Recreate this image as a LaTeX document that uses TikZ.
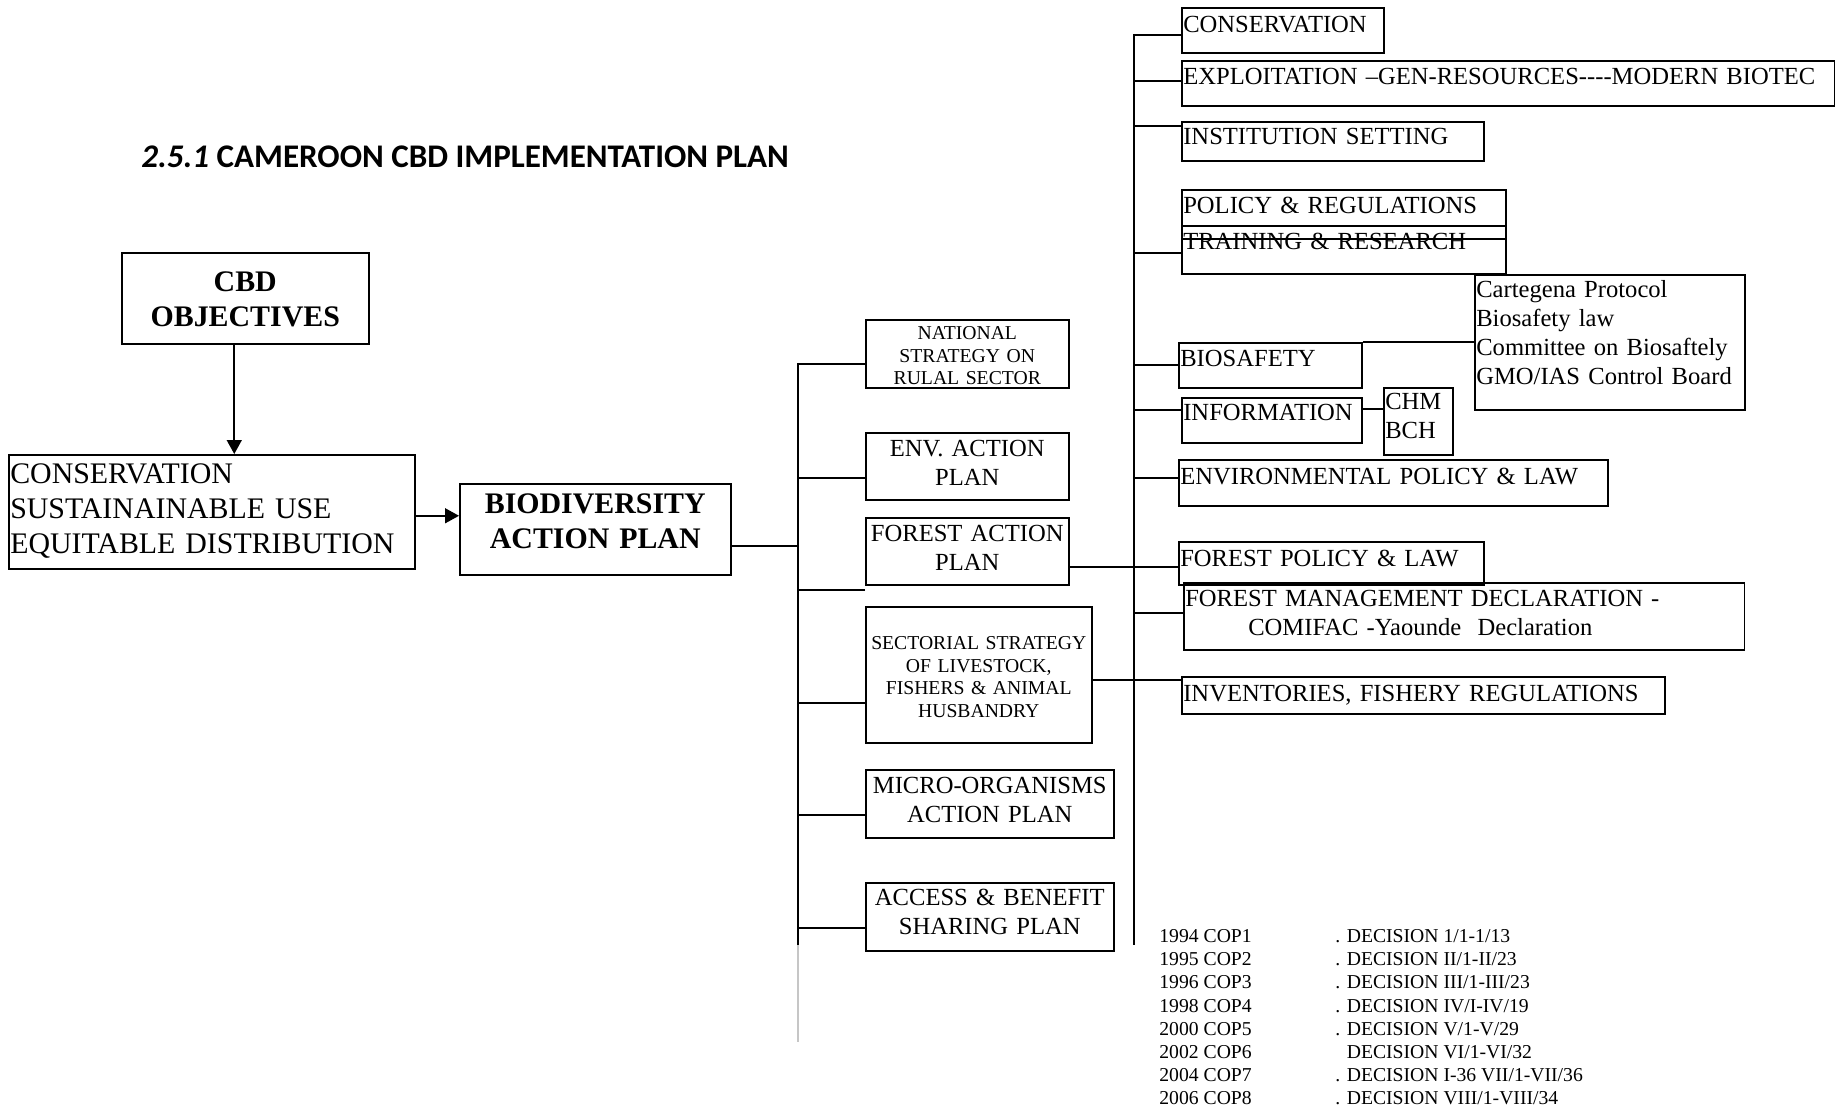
\documentclass[tikz,border=0pt]{standalone}
\usepackage{fontspec}
\setmainfont{Liberation Serif}
\newfontfamily\titlefont{Carlito}
\usepackage{tikz}
\usetikzlibrary{arrows.meta}

\tikzset{
  box/.style={draw, line width=0.9pt, anchor=north west, inner xsep=0.03cm, inner ysep=0pt},
  bigtxt/.style={font=\fontsize{17}{19.9}\selectfont},
  bigbold/.style={font=\bfseries\fontsize{17}{19.6}\selectfont},
  medtxt/.style={font=\fontsize{14}{16.4}\selectfont},
  smalltxt/.style={font=\fontsize{11.2}{12.8}\selectfont},
  link/.style={line width=0.9pt},
  arr/.style={link, -{Triangle[length=0.28cm, width=0.3cm]}}
}

\begin{document}
\begin{tikzpicture}[x=0.02cm, y=-0.02cm]
  \useasboundingbox (0,0) rectangle (1840,1108);

  \node[anchor=base west, inner sep=0pt, font=\titlefont\bfseries\fontsize{18.8}{22}\selectfont] (title) at (141,168) {\textit{2.5.1} CAMEROON CBD IMPLEMENTATION PLAN};

  % objectives and action plan
  \node[box, bigbold, align=center, text width=4.88cm, text height=0.78cm, text depth=1.04cm] (cbdobj) at (121,252) {CBD\\OBJECTIVES};
  \node[box, bigtxt, align=left, text width=8.06cm, text height=0.58cm, text depth=1.70cm] (consbox) at (8,454) {CONSERVATION\\SUSTAINAINABLE USE\\EQUITABLE DISTRIBUTION};
  \node[box, bigbold, align=center, text width=5.36cm, text height=0.60cm, text depth=1.22cm] (bioplan) at (459,483) {BIODIVERSITY\\ACTION PLAN};

  % sector plans
  \node[box, smalltxt, align=center, text width=4.00cm, text height=0.40cm, text depth=0.96cm] (natl) at (865,319) {NATIONAL\\STRATEGY ON\\RULAL SECTOR};
  \node[box, medtxt, align=center, text width=4.00cm, text height=0.48cm, text depth=0.86cm] (env) at (865,432) {ENV. ACTION\\PLAN};
  \node[box, medtxt, align=center, text width=4.00cm, text height=0.48cm, text depth=0.86cm] (forest) at (865,517) {FOREST ACTION\\PLAN};
  \node[box, smalltxt, align=center, text width=4.46cm, text height=0.86cm, text depth=1.86cm] (sect) at (865,606) {SECTORIAL STRATEGY\\OF LIVESTOCK,\\FISHERS \& ANIMAL\\HUSBANDRY};
  \node[box, medtxt, align=center, text width=4.90cm, text height=0.48cm, text depth=0.88cm] (micro) at (865,769) {MICRO-ORGANISMS\\ACTION PLAN};
  \node[box, medtxt, align=center, text width=4.90cm, text height=0.46cm, text depth=0.90cm] (access) at (865,882) {ACCESS \& BENEFIT\\SHARING PLAN};

  % themes
  \node[box, medtxt, align=left, text width=3.98cm, text height=0.50cm, text depth=0.40cm] (consv) at (1181,7) {CONSERVATION};
  \node[box, medtxt, align=left, text width=13.00cm, text height=0.48cm, text depth=0.42cm] (expl) at (1181,60) {\mbox{EXPLOITATION –GEN-RESOURCES-{}-{}-{}-MODERN BIOTEC}};
  \node[box, medtxt, align=left, text width=5.98cm, text height=0.46cm, text depth=0.32cm] (inst) at (1181,121) {INSTITUTION SETTING};
  \node[box, medtxt, align=left, text width=6.42cm, text height=0.48cm, text depth=0.50cm] (policy) at (1181,189) {POLICY \& REGULATIONS};
  \node[box, medtxt, align=left, text width=6.42cm, text height=0.48cm, text depth=0.48cm] (train) at (1181,225) {TRAINING \& RESEARCH};
  \node[box, medtxt, align=left, text width=5.34cm, text height=0.46cm, text depth=2.24cm] (cart) at (1474,274) {Cartegena Protocol\\Biosafety law\\Committee on Biosaftely\\GMO/IAS Control Board};
  \node[box, medtxt, align=left, text width=3.60cm, text height=0.48cm, text depth=0.42cm] (biosaf) at (1178,342) {BIOSAFETY};
  \node[box, medtxt, align=left, text width=3.54cm, text height=0.46cm, text depth=0.44cm] (info) at (1181,397) {INFORMATION};
  \node[box, medtxt, align=left, text width=1.32cm, text height=0.44cm, text depth=0.90cm] (chm) at (1383,387) {CHM\\BCH};
  \node[box, medtxt, align=left, text width=8.52cm, text height=0.50cm, text depth=0.42cm] (envpol) at (1178,459) {ENVIRONMENTAL POLICY \& LAW};
  \node[box, medtxt, align=left, text width=6.04cm, text height=0.50cm, text depth=0.36cm] (forpol) at (1178,541) {FOREST POLICY \& LAW};
  \node[box, medtxt, align=left, text width=11.16cm, text height=0.48cm, text depth=0.86cm] (formgmt) at (1183,582) {FOREST MANAGEMENT DECLARATION -\\\hspace*{1.26cm}COMIFAC -Yaounde\ \ Declaration};
  \node[box, medtxt, align=left, text width=9.60cm, text height=0.50cm, text depth=0.24cm] (invent) at (1181,676) {INVENTORIES, FISHERY REGULATIONS};

  % COP decisions
  \node[anchor=north west, inner sep=0pt, font=\fontsize{11.2}{13.2}\selectfont] (cops) at (1159,926) {%
    \begin{tabular}{@{}p{3.52cm}@{}l@{}}
      1994 COP1 & . DECISION 1/1-1/13\\
      1995 COP2 & . DECISION II/1-II/23\\
      1996 COP3 & . DECISION III/1-III/23\\
      1998 COP4 & . DECISION IV/I-IV/19\\
      2000 COP5 & . DECISION V/1-V/29\\
      2002 COP6 & \hphantom{. }DECISION VI/1-VI/32\\
      2004 COP7 & . DECISION I-36 VII/1-VII/36\\
      2006 COP8 & . DECISION VIII/1-VIII/34
    \end{tabular}};

  % arrows
  \draw[arr] ([xshift=-0.22cm]cbdobj.south) -- ([xshift=-0.22cm]cbdobj.south |- consbox.north);
  \draw[arr] ([yshift=-0.08cm]consbox.east) -- ([yshift=-0.08cm]consbox.east -| bioplan.west);

  % left trunk
  \coordinate (ltop) at (798,363);
  \coordinate (lbot) at (798,945);
  \coordinate (lend) at (798,1042);
  \draw[link] ([yshift=-0.33cm]bioplan.east) -- ([yshift=-0.33cm]bioplan.east -| ltop);
  \draw[link] (ltop) -- (lbot);
  \draw[gray!45, line width=0.6pt] (lbot) -- (lend);
  \draw[link] ([yshift=-0.2cm]natl.west) -- ++(-67,0);
  \draw[link] ([yshift=-0.23cm]env.west) -- ++(-67,0);
  \draw[link] ([yshift=-0.77cm]forest.west) -- ++(-67,0);
  \draw[link] ([yshift=-0.56cm]sect.west) -- ++(-67,0);
  \draw[link] ([yshift=-0.22cm]micro.west) -- ++(-67,0);
  \draw[link] ([yshift=-0.22cm]access.west) -- ++(-67,0);

  % right trunk
  \coordinate (rtop) at (1134,34);
  \coordinate (rbot) at (1134,945);
  \draw[link] (rtop) -- (rbot);
  \draw[link] ([yshift=-0.09cm]consv.west) -- ++(-47,0);
  \draw[link] ([yshift=0.05cm]expl.west) -- ++(-47,0);
  \draw[link] ([yshift=0.31cm]inst.west) -- ++(-47,0);
  \draw[link] ([yshift=-0.06cm]train.west) -- ++(-47,0);
  \draw[link] (biosaf.west) -- ++(-44,0);
  \draw[link] ([yshift=0.21cm]info.west) -- ++(-47,0);
  \draw[link] ([yshift=0.1cm]envpol.west) -- ++(-44,0);
  \draw[link] ([yshift=0.07cm]formgmt.west) -- ++(-49,0);
  \draw[link] ([yshift=-0.31cm]forest.east) -- ([yshift=-0.31cm]forest.east -| forpol.west);
  \draw[link] ([yshift=-0.11cm]sect.east) -- ([yshift=-0.11cm]sect.east -| invent.west);

  % side links
  \draw[link] (biosaf.north east) -- (biosaf.north east -| cart.west);
  \draw[link] ([yshift=0.23cm]info.east) -- ([yshift=0.23cm]info.east -| chm.west);
\end{tikzpicture}
\end{document}
